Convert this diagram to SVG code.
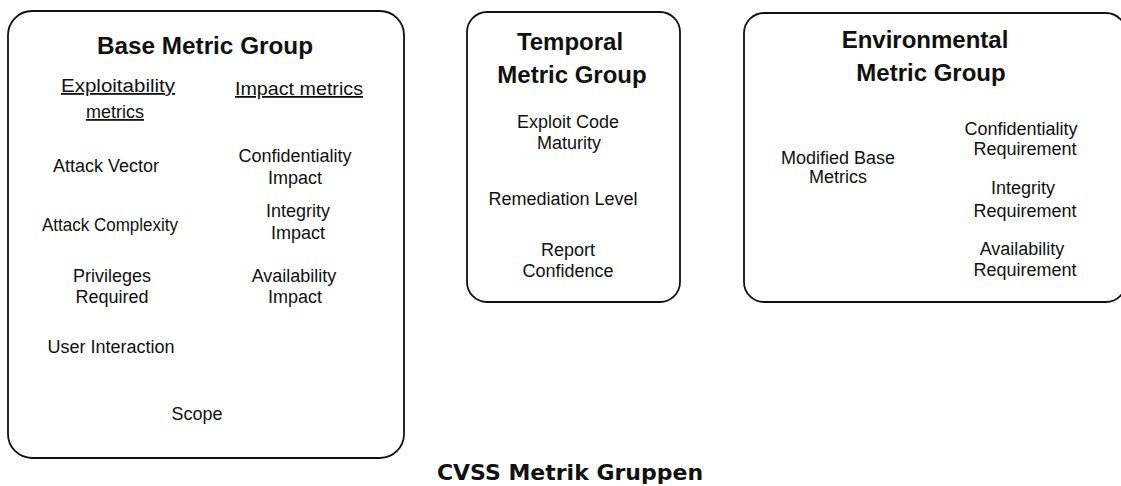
<svg xmlns="http://www.w3.org/2000/svg" width="1121" height="486" viewBox="0 0 1121 486">
  <style>
    .box { fill: #ffffff; stroke: #111111; stroke-width: 1.8; }
    .head { font-family: "Liberation Sans", Arial, sans-serif; font-weight: bold; font-size: 24px; fill: #111111; text-anchor: middle; }
    .item { font-family: "Liberation Sans", Arial, sans-serif; font-size: 18px; fill: #111111; text-anchor: middle; }
    .sub { text-decoration: underline; }
    .caption { font-family: "DejaVu Sans", Verdana, sans-serif; font-weight: bold; font-size: 22px; fill: #111111; text-anchor: middle; }
  </style>
  <rect width="1121" height="486" fill="#ffffff"/>

  <!-- Base metric group -->
  <g id="base-group">
    <rect class="box" x="8" y="11" width="396" height="447" rx="24" ry="24"/>
    <text class="head" x="205" y="54" textLength="216" lengthAdjust="spacingAndGlyphs">Base Metric Group</text>
    <text class="item sub" x="118" y="92" textLength="114" lengthAdjust="spacingAndGlyphs">Exploitability</text>
    <text class="item sub" x="115" y="118">metrics</text>
    <text class="item sub" x="299" y="95" textLength="128" lengthAdjust="spacingAndGlyphs">Impact metrics</text>
    <text class="item" x="106" y="172">Attack Vector</text>
    <text class="item" x="295" y="162">Confidentiality</text>
    <text class="item" x="295" y="184">Impact</text>
    <text class="item" x="110" y="231" textLength="136" lengthAdjust="spacingAndGlyphs">Attack Complexity</text>
    <text class="item" x="298" y="217">Integrity</text>
    <text class="item" x="298" y="239">Impact</text>
    <text class="item" x="112" y="282">Privileges</text>
    <text class="item" x="112" y="303">Required</text>
    <text class="item" x="294" y="282">Availability</text>
    <text class="item" x="295" y="303">Impact</text>
    <text class="item" x="111" y="353">User Interaction</text>
    <text class="item" x="197" y="420">Scope</text>
  </g>

  <!-- Temporal metric group -->
  <g id="temporal-group">
    <rect class="box" x="467" y="12" width="213" height="290" rx="20" ry="20"/>
    <text class="head" x="570" y="50">Temporal</text>
    <text class="head" x="572" y="83">Metric Group</text>
    <text class="item" x="568" y="128">Exploit Code</text>
    <text class="item" x="569" y="149">Maturity</text>
    <text class="item" x="563" y="205">Remediation Level</text>
    <text class="item" x="568" y="256">Report</text>
    <text class="item" x="568" y="277">Confidence</text>
  </g>

  <!-- Environmental metric group (right side runs past the page edge) -->
  <g id="environmental-group">
    <rect class="box" x="744" y="13" width="382" height="289" rx="20" ry="20"/>
    <text class="head" x="925" y="48">Environmental</text>
    <text class="head" x="931" y="81">Metric Group</text>
    <text class="item" x="838" y="164">Modified Base</text>
    <text class="item" x="838" y="183">Metrics</text>
    <text class="item" x="1021" y="135">Confidentiality</text>
    <text class="item" x="1025" y="155">Requirement</text>
    <text class="item" x="1023" y="194">Integrity</text>
    <text class="item" x="1025" y="217">Requirement</text>
    <text class="item" x="1022" y="255">Availability</text>
    <text class="item" x="1025" y="276">Requirement</text>
  </g>

  <g id="connectors"></g>

  <text id="caption" class="caption" x="570" y="480">CVSS Metrik Gruppen</text>
</svg>
